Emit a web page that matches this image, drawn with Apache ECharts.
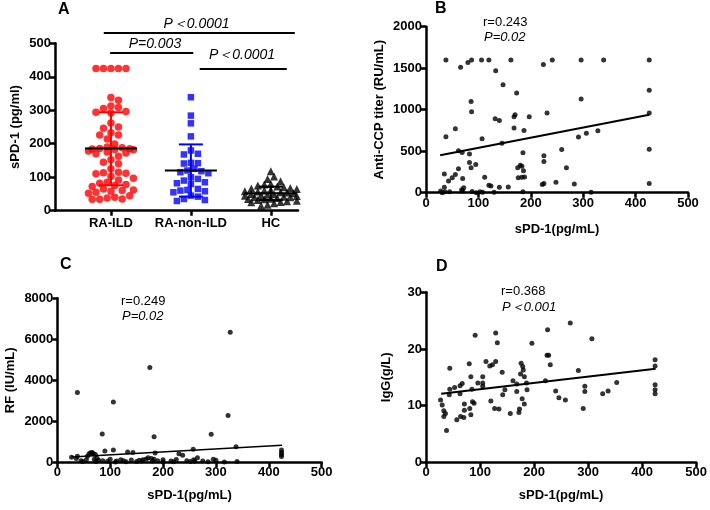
<!DOCTYPE html>
<html>
<head>
<meta charset="utf-8">
<script src="https://cdn.jsdelivr.net/npm/echarts@6/dist/echarts.min.js"></script>
<style>html,body{margin:0;padding:0;background:#fff}#c{width:710px;height:510px}</style>
</head>
<body>
<div id="c"></div>
<script>
// ---------- DATA ----------
const catNames = ['RA-ILD', 'RA-non-ILD', 'HC'];
const raIld = [425,425,425,425,425,338,330,313,308,305,296,294,292,262,250,246,233,226,226,214,199,190,188,186,185,184,183,182,178,175,172,170,163,152,145,140,125,115,113,112,110,103,97,92,85,82,78,75,72,65,62,60,58,55,52,45,40,38,35,34,34];
const raNonIld = [339,284,261,222,180,170,168,143,142,141,125,120,118,115,112,100,95,90,85,82,80,65,62,60,58,55,45,42,35,32,29];
const hc = [118,102,95,88,80,78,75,72,70,68,66,65,62,60,58,57,55,54,52,50,49,48,46,45,44,42,40,40,38,36,35,34,32,30,28,26,25,22,18,15];
const groupMean = [186, 120, 52];
const groupLow = [76, 42, 32];
const groupHigh = [294, 198, 72];
const sigLabels = ['P\uFF1C0.0001', 'P=0.003', 'P\uFF1C0.0001'];

const bX = [38,66,80,87,106,120,162,241,296,339,426, 224,133,147,173,426,296,86, 87,132,140,168,170,197,231,426, 56,168,187,306,328, 38,107,145,291, 62,69,83,259,426,185, 225,225,83,86,95,268,175,180,183,186,62, 35,56,50,43,70,112,183,176,188, 222,225,248,283,426,120,124,140,157,35, 28,31,45,70,72,88,96,103,108,130,185,315,68,36];
const bY = [1600,1510,1570,1600,1600,1600,1600,1600,1600,1600,1600, 1545,1470,1300,1200,1235,1130,1100, 975,890,870,915,940,915,960,960, 770,780,750,715,745, 675,650,595,670, 505,485,465,520,525,480, 445,375,365,300,340,300,300,330,320,265,290, 225,220,180,140,170,185,185,180,190, 100,110,125,105,110,90,80,65,70,65, 20,0,10,20,60,15,0,10,5,5,10,5,35,10];
const bFit = [[27, 450], [426, 940]];

const cX = [38,106,175,327,323,291,85,183,257,338,424,424,424,424,90,106, 27,36,38,45,55,57,60,63,66,68,72,75,78,95,100,112,125,133,143,150,155,162,168,172,178,185,190,200,215,225,230,237,245,252,258,265,275,285,295,300,316,340,110,130,48,70,86,140,160,180,200,220,260,120,183,73];
const cY = [3400,2940,4630,6340,2280,1370,1380,1250,640,760,600,480,380,280,550,600, 250,180,300,80,120,300,420,460,480,420,380,200,100,50,150,60,80,500,480,40,100,120,160,220,180,450,80,120,60,140,420,350,80,40,120,220,60,30,150,100,20,40,20,30,40,150,70,110,60,60,20,30,50,120,150,40];
const cFit = [[27, 260], [425, 830]];

const dX = [267,225,129,91,307,196,132,224,227,424,424,424,424,424,111,129,80,118,123,230,176,179,180,44,282,175,182,141,83,105,161,221,105,96,186,353,67,53,63,105,168,187,294,294,240,337,327,44,43,63,85,146,142,168,178,246,258,120,27,30,86,89,71,71,81,127,135,182,173,291,33,36,33,83,64,70,57,156,172,38];
const dY = [24.6,23.4,22.8,22.4,21.8,21.0,21.1,18.9,18.9,18.1,17.0,13.7,12.8,12.1,17.8,17.8,17.4,17.0,17.2,17.2,17.5,16.9,16.3,16.6,16.2,15.6,15.1,15.9,15.1,15.1,14.4,14.4,14.0,14.0,14.0,14.1,13.9,13.2,13.5,13.4,13.8,12.8,13.4,12.5,12.6,12.6,12.1,12.9,11.9,12.1,12.9,12.8,11.9,12.5,11.2,11.4,11.0,10.8,11.0,10.1,10.7,10.4,10.3,9.2,9.5,9.5,9.4,10.3,9.4,9.5,9.1,8.6,8.1,8.4,8.1,7.9,7.5,8.6,8.8,5.6];
const dFit = [[28, 12.1], [425, 16.5]];

// ---------- LAYOUT HELPERS ----------
function zip(xs, ys) { return xs.map((x, i) => [x, ys[i]]); }
// beeswarm within a max half-width (px); overlaps allowed when crowded
function swarm(values, center, pxPerX, pxPerY, diam, maxHalf) {
  const sorted = values.slice().sort((a, b) => b - a);
  const placed = [];
  const step = diam * 0.5;
  const nSteps = Math.floor(maxHalf / step);
  const cands = [0];
  for (let k = 1; k <= nSteps; k++) { cands.push(k * step, -k * step); }
  const thr = diam * diam * 0.8;
  sorted.forEach(v => {
    const py = v * pxPerY;
    let best = null, bestCost = Infinity;
    for (const off of cands) {
      let cost = 0;
      for (const p of placed) {
        const dx = p[0] - off, dy = p[1] - py;
        const d2 = dx * dx + dy * dy;
        if (d2 < thr) cost += (thr - d2);
      }
      if (cost === 0) { best = off; bestCost = 0; break; }
      if (cost < bestCost) { bestCost = cost; best = off; }
    }
    placed.push([best, py]);
  });
  return placed.map(p => [center + p[0] / pxPerX, p[1] / pxPerY]);
}

const FONT = 'Liberation Sans, Arial, Helvetica, sans-serif';
const axisLine = { show: true, onZero: false, lineStyle: { color: '#000', width: 2.5 } };
const axisTick = { show: true, length: 5, lineStyle: { color: '#000', width: 2.5 } };
const tickLabel = { color: '#000', fontWeight: 'bold', fontSize: 13, fontFamily: FONT, margin: 4,
  formatter: v => String(v) };
const nameStyle = { color: '#000', fontWeight: 'bold', fontSize: 13, fontFamily: FONT };

function valX(gi, gap) {
  return { type: 'value', gridIndex: gi, min: 0, max: 500, interval: 100, axisLine, axisTick,
    axisLabel: tickLabel, splitLine: { show: false }, name: 'sPD-1(pg/mL)', nameLocation: 'middle',
    nameGap: gap, nameTextStyle: nameStyle };
}
function valY(gi, max, interval, name, gap) {
  return { type: 'value', gridIndex: gi, min: 0, max, interval, axisLine, axisTick,
    axisLabel: tickLabel, splitLine: { show: false }, name, nameLocation: 'middle',
    nameGap: gap, nameTextStyle: nameStyle };
}

const PXX = 80, PXY = 167.4 / 500;
const colorsA = ['#ff0000', '#0000ff', '#000000'];

const option = {
  animation: false,
  backgroundColor: '#fff',
  grid: [
    { left: 55, top: 43.3, width: 243, height: 167.4 },
    { left: 426, top: 26.7, width: 262, height: 166 },
    { left: 57.3, top: 298.3, width: 264.4, height: 164 },
    { left: 426, top: 292.3, width: 274, height: 170 }
  ],
  xAxis: [
    { type: 'value', gridIndex: 0, min: -0.7, max: 2.34, axisLine,
      axisTick: Object.assign({}, axisTick, { customValues: [0, 1, 2] }),
      axisLabel: Object.assign({}, tickLabel, { fontSize: 13, margin: 6, customValues: [0, 1, 2],
        formatter: v => catNames[Math.round(v)] }),
      splitLine: { show: false } },
    valX(1, 30), valX(2, 27), valX(3, 27)
  ],
  yAxis: [
    valY(0, 500, 100, 'sPD-1 (pg/ml)', 33),
    valY(1, 2000, 500, 'Anti-CCP titer (RU/mL)', 40),
    valY(2, 8000, 2000, 'RF (IU/mL)', 40),
    valY(3, 30, 10, 'IgG(g/L)', 33)
  ],
  series: [
    { type: 'scatter', xAxisIndex: 0, yAxisIndex: 0, symbol: 'circle', symbolSize: 7.5,
      itemStyle: { color: colorsA[0] }, data: swarm(raIld, 0, PXX, PXY, 7.5, 24) },
    { type: 'scatter', xAxisIndex: 0, yAxisIndex: 0, symbol: 'rect', symbolSize: 6.5,
      itemStyle: { color: colorsA[1] }, data: swarm(raNonIld, 1, PXX, PXY, 7, 22) },
    { type: 'scatter', xAxisIndex: 0, yAxisIndex: 0, symbol: 'triangle', symbolSize: 8,
      itemStyle: { color: colorsA[2] }, data: swarm(hc, 2, PXX, PXY, 6.5, 26) },
    { type: 'custom', xAxisIndex: 0, yAxisIndex: 0, z: 5, clip: false,
      data: groupMean.map((m, i) => [i, m, groupLow[i], groupHigh[i]]),
      renderItem: (params, api) => {
        const i = api.value(0);
        const pm = api.coord([i, api.value(1)]);
        const pl = api.coord([i, api.value(2)]);
        const ph = api.coord([i, api.value(3)]);
        const c = colorsA[i];
        const ln = (x1, y1, x2, y2, col) => ({ type: 'line', shape: { x1, y1, x2, y2 }, style: { stroke: col, lineWidth: 2 } });
        return { type: 'group', children: [
          ln(pl[0], pl[1], ph[0], ph[1], c),
          ln(ph[0] - 12, ph[1], ph[0] + 12, ph[1], c),
          ln(pl[0] - 12, pl[1], pl[0] + 12, pl[1], c),
          ln(pm[0] - 26, pm[1], pm[0] + 26, pm[1], '#000')
        ] };
      } },
    { type: 'custom', xAxisIndex: 0, yAxisIndex: 0, z: 5, clip: false,
      // [x1, x2, lineY, labelX, labelY] in axis units (annotation layout)
      data: [[-0.09, 2.30, 531, 1.07, 557], [-0.01, 1.03, 471, 0.55, 497], [1.11, 2.20, 423, 1.64, 465]],
      renderItem: (params, api) => {
        const a = api.coord([api.value(0), api.value(2)]);
        const b = api.coord([api.value(1), api.value(2)]);
        const t = api.coord([api.value(3), api.value(4)]);
        return { type: 'group', children: [
          { type: 'line', shape: { x1: a[0], y1: a[1], x2: b[0], y2: b[1] }, style: { stroke: '#000', lineWidth: 2 } },
          { type: 'text', x: t[0], y: t[1], style: { text: sigLabels[params.dataIndex], fill: '#000',
            font: 'italic 14px ' + FONT, align: 'center', verticalAlign: 'middle' } }
        ] };
      } },
    { type: 'scatter', xAxisIndex: 1, yAxisIndex: 1, symbolSize: 5, itemStyle: { color: '#000' }, data: zip(bX, bY) },
    { type: 'line', xAxisIndex: 1, yAxisIndex: 1, symbol: 'none', lineStyle: { color: '#000', width: 2 }, data: bFit },
    { type: 'scatter', xAxisIndex: 2, yAxisIndex: 2, symbolSize: 5, itemStyle: { color: '#000' }, data: zip(cX, cY) },
    { type: 'line', xAxisIndex: 2, yAxisIndex: 2, symbol: 'none', lineStyle: { color: '#000', width: 1.5 }, data: cFit },
    { type: 'scatter', xAxisIndex: 3, yAxisIndex: 3, symbolSize: 5, itemStyle: { color: '#000' }, data: zip(dX, dY) },
    { type: 'line', xAxisIndex: 3, yAxisIndex: 3, symbol: 'none', lineStyle: { color: '#000', width: 2 }, data: dFit }
  ],
  graphic: [
    { type: 'text', left: 58, top: 2, style: { text: 'A', font: 'bold 16px ' + FONT, fill: '#000' } },
    { type: 'text', left: 435, top: 1, style: { text: 'B', font: 'bold 16px ' + FONT, fill: '#000' } },
    { type: 'text', left: 60, top: 257, style: { text: 'C', font: 'bold 16px ' + FONT, fill: '#000' } },
    { type: 'text', left: 436, top: 259, style: { text: 'D', font: 'bold 16px ' + FONT, fill: '#000' } },
    { type: 'text', left: 483, top: 16, style: { text: 'r=0.243', font: '13px ' + FONT, fill: '#000' } },
    { type: 'text', left: 484, top: 31, style: { text: 'P=0.02', font: 'italic 13px ' + FONT, fill: '#000' } },
    { type: 'text', left: 121, top: 295, style: { text: 'r=0.249', font: '13px ' + FONT, fill: '#000' } },
    { type: 'text', left: 122, top: 310, style: { text: 'P=0.02', font: 'italic 13px ' + FONT, fill: '#000' } },
    { type: 'text', left: 501, top: 285, style: { text: 'r=0.368', font: '13px ' + FONT, fill: '#000' } },
    { type: 'text', left: 502, top: 301, style: { text: 'P\uFF1C0.001', font: 'italic 13px ' + FONT, fill: '#000' } }
  ]
};

const chart = echarts.init(document.getElementById('c'), null, { renderer: 'canvas' });
chart.setOption(option);
</script>
</body>
</html>
